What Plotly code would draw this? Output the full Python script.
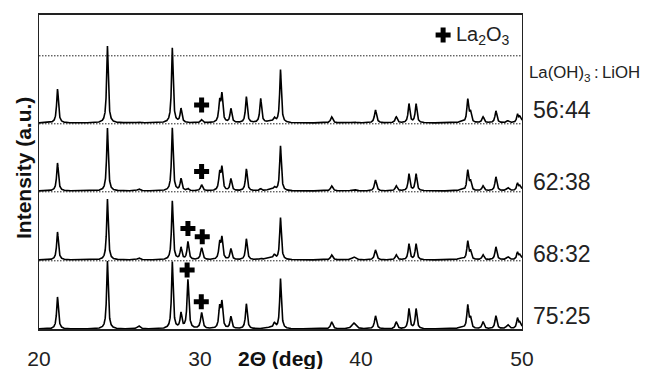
import numpy as np
import plotly.graph_objects as go

# ---- data ----
# shared reflection positions (2θ, deg) and profile widths (FWHM, deg)
peak_pos = [21.15, 24.25, 26.2, 28.28, 28.82, 29.25, 30.1, 31.22, 31.36, 31.92,
            32.88, 33.77, 34.3, 34.62, 35.0, 38.18, 39.55, 40.9, 42.19, 42.98,
            43.42, 46.2, 46.63, 46.8, 47.58, 48.38, 49.12, 49.72, 49.86, 50.12]
peak_fwhm = [0.13, 0.12, 0.2, 0.12, 0.13, 0.13, 0.15, 0.13, 0.13, 0.13,
             0.13, 0.13, 0.5, 0.16, 0.12, 0.16, 0.28, 0.15, 0.15, 0.13,
             0.13, 0.3, 0.13, 0.13, 0.15, 0.14, 0.2, 0.13, 0.13, 0.13]

series_names = ["56:44", "62:38", "68:32", "75:25"]
h_56_44 = [34, 77, 1, 75, 14, 0, 3, 20, 27, 14, 26, 24, 1, 4, 53, 6, 1, 13, 6, 19,
           19, 1, 23, 10, 6, 12, 2, 8, 5, 10]
h_62_38 = [28, 63, 2, 63, 12, 2, 6, 17, 22, 12, 22, 2, 1, 3, 45, 5, 1.5, 11, 5, 17,
           17, 1, 20, 9, 5, 14, 3, 7, 4, 9]
h_68_32 = [28, 61, 2, 59, 12, 18, 12, 16, 21, 11, 21, 1, 2, 4, 42, 5, 3, 10, 5, 16,
           16, 2, 18, 8, 5, 13, 3, 7, 4, 9]
h_75_25 = [32, 68, 3, 67, 15, 49, 16, 20, 25, 12, 25, 0, 1, 5, 50, 7, 6, 13, 7, 20,
           20, 2, 23, 10, 7, 13, 4, 10, 5, 10]
heights = [h_56_44, h_62_38, h_68_32, h_75_25]
offsets = [206, 138, 69, 0]          # vertical stacking of the patterns (a.u.)
top_separator = 274

# La2O3 markers: (series index, 2θ, height above that pattern's baseline)
mark_series = [0, 1, 2, 2, 3, 3]
mark_theta = [30.1, 30.1, 29.25, 30.14, 29.2, 30.08]
mark_height = [18, 19.5, 31.5, 23.3, 59, 27.3]

x_ticks = [20, 30, 40, 50]

# ---- figure ----
theta = np.linspace(20, 50, 7001)
fig = go.Figure()

for name, h, off in zip(series_names, heights, offsets):
    y = np.zeros_like(theta)
    for p, w, a in zip(peak_pos, peak_fwhm, h):
        g = w / 2
        y += a * g * g / ((theta - p) ** 2 + g * g)
    fig.add_trace(go.Scatter(x=theta, y=y + off, mode="lines", name=name,
                             line=dict(color="black", width=1.6),
                             showlegend=False, hoverinfo="skip"))

fig.add_trace(go.Scatter(
    x=mark_theta,
    y=[offsets[s] + hh for s, hh in zip(mark_series, mark_height)],
    mode="markers", showlegend=False, hoverinfo="skip",
    marker=dict(symbol="cross", size=12.5, color="black", line=dict(width=0))))

# legend marker
fig.add_trace(go.Scatter(x=[45.1], y=[294], mode="markers", showlegend=False,
                         hoverinfo="skip",
                         marker=dict(symbol="cross", size=12.5, color="black",
                                     line=dict(width=0))))

shapes = []
for yy in [top_separator] + offsets[:3]:
    shapes.append(dict(type="line", xref="paper", yref="y", x0=0, x1=1,
                       y0=yy - 0.8, y1=yy - 0.8,
                       line=dict(color="#222222", width=1, dash="1.5px,1.5px")))

font = "Liberation Sans, Arial, sans-serif"
ann = []
label_y = [219, 147, 75, 13]
for name, ly in zip(series_names, label_y):
    ann.append(dict(text=name, xref="paper", yref="y", x=1, y=ly, xshift=9,
                    xanchor="left", yanchor="middle", showarrow=False,
                    font=dict(family=font, size=23, color="#222222")))
ann.append(dict(text="La(OH)<sub>3</sub>\u2009:\u2009LiOH", xref="paper", yref="y",
                x=1, y=256, xshift=5, xanchor="left", yanchor="middle", showarrow=False,
                font=dict(family=font, size=16.8, color="#222222")))
ann.append(dict(text="La<sub>2</sub>O<sub>3</sub>", xref="x", yref="y", x=45.8, y=294,
                xanchor="left", yanchor="middle", showarrow=False,
                font=dict(family=font, size=20, color="#222222")))
ann.append(dict(text="<b>Intensity (a.u.)</b>", xref="paper", yref="y", x=0, y=161,
                xshift=-16, xanchor="center", yanchor="middle", textangle=-90,
                showarrow=False, font=dict(family=font, size=21, color="#111111")))
ann.append(dict(text="<b>2Θ (deg)</b>", xref="x", yref="paper", x=35.03, y=0,
                yshift=-29, xanchor="center", yanchor="middle", showarrow=False,
                font=dict(family=font, size=21, color="#111111")))

# page body has an 8px default margin, so the figure is sized to fit the window
fig.update_layout(
    template="none",
    width=643, height=361,
    margin=dict(l=31, r=129, t=7, b=40, autoexpand=False),
    paper_bgcolor="white", plot_bgcolor="white",
    font=dict(family=font, color="#222222"),
    showlegend=False,
    shapes=shapes, annotations=ann,
    xaxis=dict(range=[20, 50], tickvals=x_ticks, ticktext=[str(t) for t in x_ticks],
               showline=True, mirror=True, linecolor="#222222", linewidth=2,
               showgrid=False, zeroline=False, ticks="outside", ticklen=10,
               tickcolor="rgba(0,0,0,0)", automargin=False,
               tickfont=dict(family=font, size=21, color="#222222")),
    yaxis=dict(range=[0, 314], showline=True, mirror=True, linecolor="#222222",
               linewidth=1.3, showgrid=False, zeroline=False, showticklabels=False,
               ticks="", automargin=False),
)

fig.write_html("out.html")
